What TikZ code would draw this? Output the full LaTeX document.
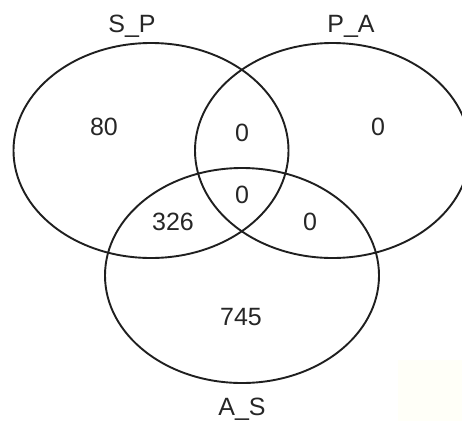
\documentclass[tikz,border=0pt]{standalone}
\usepackage{fontspec}
\setmainfont{Liberation Sans}
\begin{document}
\begin{tikzpicture}[x=1pt,y=-1pt,
  setline/.style={draw=black!88, line width=1.9pt},
  lbl/.style={font=\fontsize{25}{25}\selectfont, text=black!85, anchor=base, inner sep=0pt},
  num/.style={font=\fontsize{25}{25}\selectfont, text=black!85, anchor=base, inner sep=0pt}]
  % page frame (the right set runs past the edge and is cut off)
  \clip (0,0) rectangle (462,421);
  \fill[white] (0,0) rectangle (462,421);
  \fill[fill={rgb,255:red,255;green,255;blue,248}] (398,360) rectangle (462,421);

  % the three sets
  \draw[setline] (151,150.5) ellipse [x radius=137.5, y radius=107.5];
  \draw[setline] (332.5,150.5) ellipse [x radius=137.5, y radius=107.5];
  \draw[setline] (242,275.5) ellipse [x radius=137, y radius=107.5];

  % set names
  \node[lbl] (sp) at (132,32.5) {S\_P};
  \node[lbl] (pa) at (351,32.5) {P\_A};
  \node[lbl] (as) at (242,415) {A\_S};

  % region counts
  \node[num] (n1) at (104,135) {80};
  \node[num] (n2) at (242,141) {0};
  \node[num] (n3) at (378,135) {0};
  \node[num] (n4) at (242,203) {0};
  \node[num] (n5) at (173,230) {326};
  \node[num] (n6) at (310,230) {0};
  \node[num] (n7) at (241,325) {745};
\end{tikzpicture}
\end{document}
